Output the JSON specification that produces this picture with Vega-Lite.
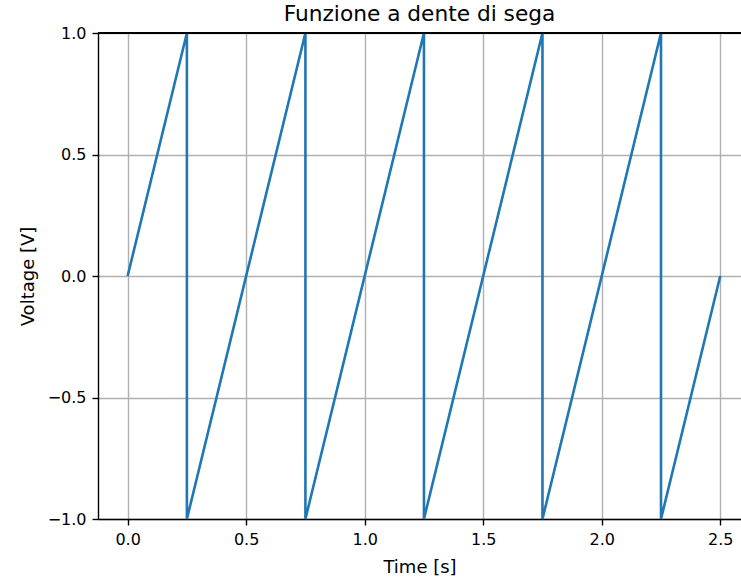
{
  "$schema": "https://vega.github.io/schema/vega-lite/v6.json",
  "autosize": {"type": "none"},
  "width": 643,
  "height": 486,
  "padding": {"left": 98, "top": 33, "right": 0, "bottom": 62},
  "background": "white",
  "config": {
    "view": {"stroke": null},
    "font": "DejaVu Sans",
    "axis": {
      "domainColor": "black",
      "domainWidth": 1.4,
      "tickColor": "black",
      "tickWidth": 1.4,
      "tickSize": 6,
      "labelPadding": 6,
      "labelFontSize": 16,
      "labelColor": "black",
      "titleFontSize": 18,
      "titleFontWeight": "normal",
      "titleColor": "black",
      "gridColor": "#b0b0b0",
      "gridWidth": 1.4,
      "gridOpacity": 1
    }
  },
  "title": {"text": "Funzione a dente di sega", "fontSize": 21.7, "fontWeight": "normal", "color": "black", "offset": 0, "dy": 1, "font": "DejaVu Sans"},
  "data": {"values": [
    {"i": 0, "t": 0.0, "v": 0.0},
    {"i": 1, "t": 0.25, "v": 1.0},
    {"i": 2, "t": 0.25, "v": -1.0},
    {"i": 3, "t": 0.75, "v": 1.0},
    {"i": 4, "t": 0.75, "v": -1.0},
    {"i": 5, "t": 1.25, "v": 1.0},
    {"i": 6, "t": 1.25, "v": -1.0},
    {"i": 7, "t": 1.75, "v": 1.0},
    {"i": 8, "t": 1.75, "v": -1.0},
    {"i": 9, "t": 2.25, "v": 1.0},
    {"i": 10, "t": 2.25, "v": -1.0},
    {"i": 11, "t": 2.5, "v": 0.0}
  ]},
  "layer": [
    {
      "mark": {"type": "line", "color": "#1f77b4", "strokeWidth": 2.6},
      "encoding": {
        "x": {"field": "t", "type": "quantitative", "scale": {"domain": [-0.125, 2.5875], "nice": false, "zero": false},
              "axis": {"values": [0, 0.5, 1, 1.5, 2, 2.5], "format": ".1f", "title": "Time [s]", "titlePadding": 11, "grid": true}},
        "y": {"field": "v", "type": "quantitative", "scale": {"domain": [-1, 1], "nice": false},
              "axis": {"values": [-1, -0.5, 0, 0.5, 1], "format": ".1f", "title": "Voltage [V]", "titlePadding": 10, "grid": true}},
        "order": {"field": "i", "type": "quantitative"}
      }
    },
    {
      "mark": {"type": "rule", "color": "black", "strokeWidth": 1.4},
      "encoding": {"y": {"datum": 1}}
    }
  ]
}
